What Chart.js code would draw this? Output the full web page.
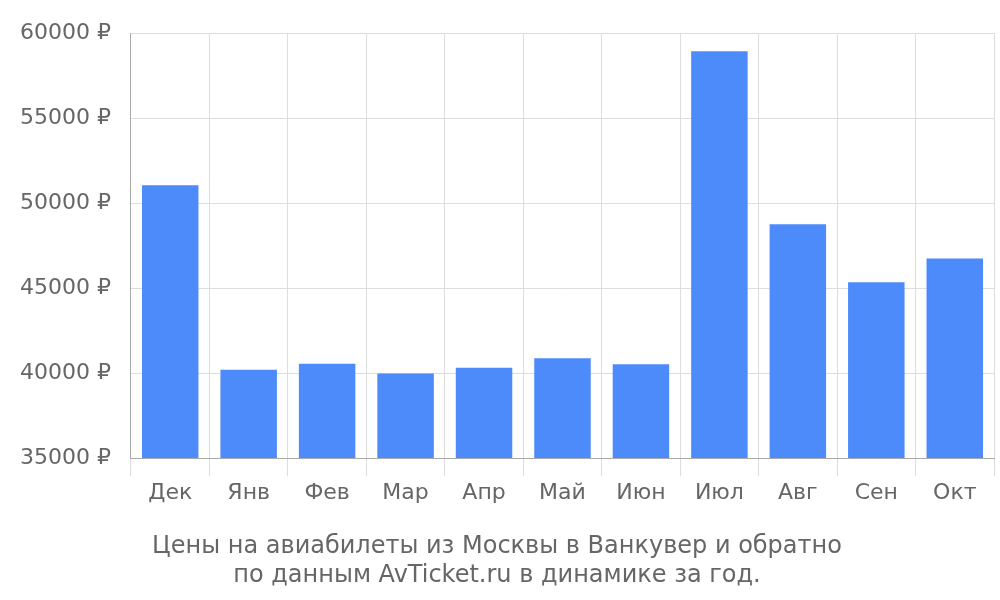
<!DOCTYPE html>
<html><head><meta charset="utf-8">
<script src="https://cdn.jsdelivr.net/npm/chart.js@4"></script>
<style>html,body{margin:0;padding:0;background:#fff}#w{width:1000px;height:600px}</style>
</head><body><div id="w"><canvas id="c"></canvas></div>
<script>
const categories = ["Дек","Янв","Фев","Мар","Апр","Май","Июн","Июл","Авг","Сен","Окт"];
const prices = [51050,40200,40540,39980,40310,40870,40520,58940,48760,45350,46740];
const titleLines = ["Цены на авиабилеты из Москвы в Ванкувер и обратно","по данным AvTicket.ru в динамике за год."];
Chart.defaults.font.family = "DejaVu Sans";
new Chart(document.getElementById('c'), {
  type: 'bar',
  data: { labels: categories, datasets: [{ data: prices, backgroundColor: '#4d8afa', barPercentage: 0.72, categoryPercentage: 1 }] },
  options: {
    responsive: true, maintainAspectRatio: false, animation: false,
    layout: { padding: { right: 6, top: -12, bottom: 10 } },
    plugins: { legend: { display: false }, tooltip: { enabled: false },
      title: { display: true, position: 'bottom', text: titleLines, color: '#666', font: { size: 24, weight: 'normal' }, padding: { top: 22, bottom: 0 }, lineHeight: 1.15 } },
    scales: {
      x: { grid: { color: '#ddd', tickLength: 18, offset: true }, border: { color: '#aaa' },
           ticks: { color: '#666', font: { size: 22 }, padding: 4 } },
      y: { min: 35000, max: 60000, grid: { color: '#ddd', tickLength: 0 }, border: { color: '#aaa' },
           ticks: { stepSize: 5000, color: '#666', font: { size: 22 }, padding: 20, callback: v => v + ' ₽' } }
    }
  }
});
</script></body></html>
